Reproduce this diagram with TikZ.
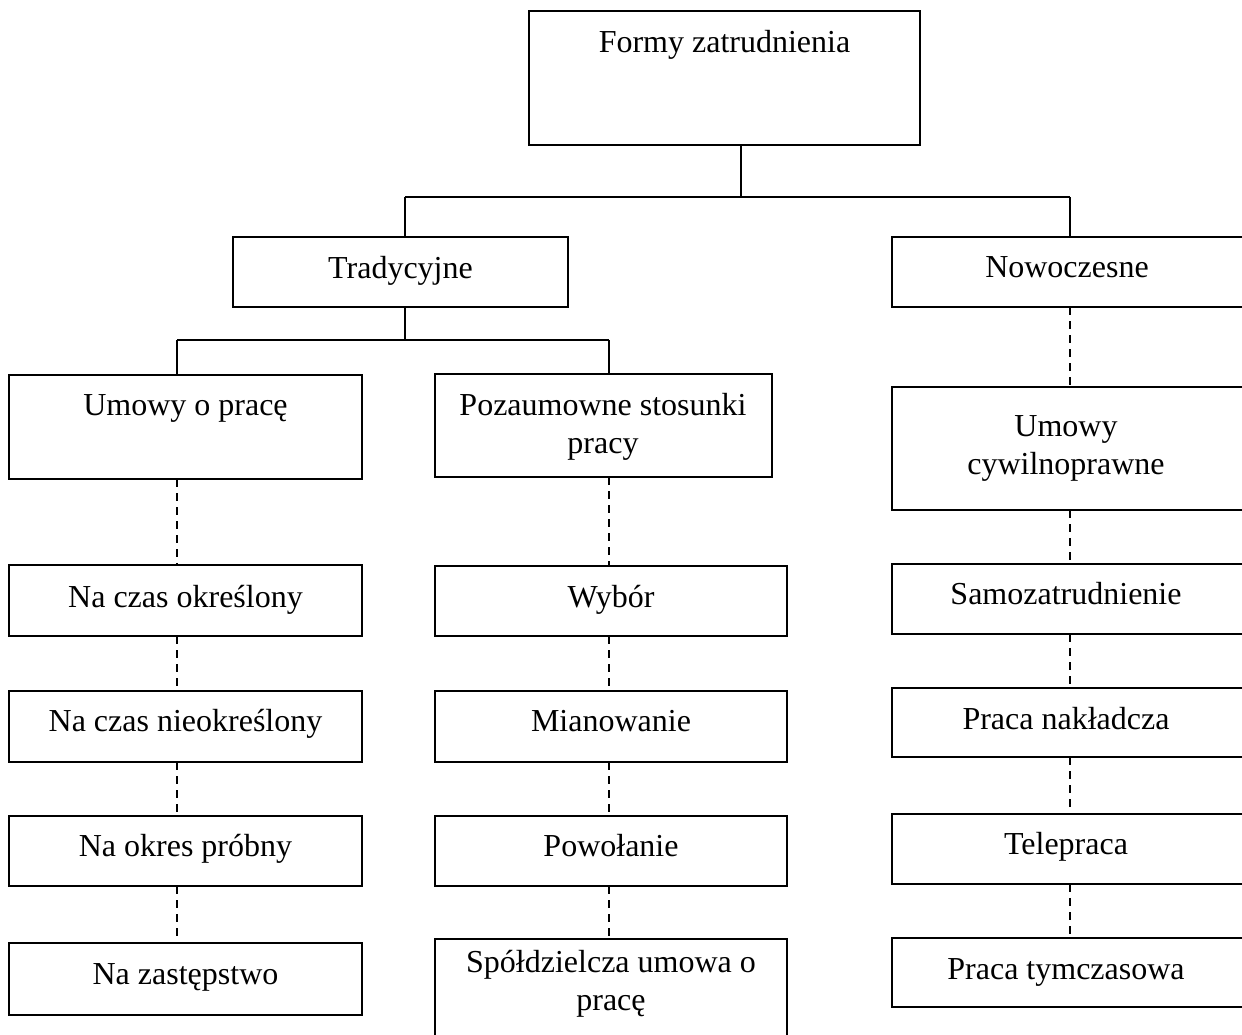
\documentclass[tikz,border=0pt]{standalone}
\usepackage{fontspec}
\setmainfont{Liberation Serif}
\begin{document}
\begin{tikzpicture}[x=1pt, y=-1pt,
  box/.style={draw, line width=1.6pt, rectangle, inner sep=0pt, outer sep=0pt},
  txt/.style={inner sep=0pt, outer sep=0pt, anchor=base, align=center,
    font=\fontsize{32}{37.5}\selectfont},
  link/.style={line width=1.6pt},
  dlink/.style={line width=1.5pt, dash pattern=on 8pt off 6pt}]
\useasboundingbox (0,0) rectangle (1242,1034);
\clip (0,0) rectangle (1242,1034);
\fill[white] (0,0) rectangle (1242,1034);

% root
\node[box, minimum width=391pt, minimum height=134pt] (top) at (724.5,78) {};
\node[txt] (top-t) at (724.5,52) {Formy zatrudnienia};

% second level
\node[box, minimum width=335pt, minimum height=70pt] (trad) at (400.5,272) {};
\node[txt] (trad-t) at (400.5,278) {Tradycyjne};
\node[box, minimum width=352pt, minimum height=70pt] (nowo) at (1068,272) {};
\node[txt] (nowo-t) at (1067,277) {Nowoczesne};

% third level (two-line labels are anchored at the baseline of their last line)
\node[box, minimum width=353pt, minimum height=104pt] (ump) at (185.5,427) {};
\node[txt] (ump-t) at (185.5,415) {Umowy o pracę};
\node[box, minimum width=337pt, minimum height=103pt] (poz) at (603.5,425.5) {};
\node[txt] (poz-t) at (603,453) {Pozaumowne stosunki\\pracy};
\node[box, minimum width=352pt, minimum height=123pt] (cyw) at (1068,448.5) {};
\node[txt] (cyw-t) at (1066,474) {Umowy\\cywilnoprawne};

% left column
\node[box, minimum width=353pt, minimum height=71pt] (l1) at (185.5,600.5) {};
\node[txt] at (185.5,607) {Na czas określony};
\node[box, minimum width=353pt, minimum height=71pt] (l2) at (185.5,726.5) {};
\node[txt] at (185.5,731) {Na czas nieokreślony};
\node[box, minimum width=353pt, minimum height=70pt] (l3) at (185.5,851) {};
\node[txt] at (185.5,856) {Na okres próbny};
\node[box, minimum width=353pt, minimum height=72pt] (l4) at (185.5,979) {};
\node[txt] at (185.5,984) {Na zastępstwo};

% middle column
\node[box, minimum width=352pt, minimum height=70pt] (m1) at (611,601) {};
\node[txt] at (611,607) {Wybór};
\node[box, minimum width=352pt, minimum height=71pt] (m2) at (611,726.5) {};
\node[txt] at (611,731) {Mianowanie};
\node[box, minimum width=352pt, minimum height=70pt] (m3) at (611,851) {};
\node[txt] at (611,856) {Powołanie};
\node[box, minimum width=352pt, minimum height=106pt] (m4) at (611,992) {};
\node[txt] at (611,1010) {Spółdzielcza umowa o\\pracę};

% right column
\node[box, minimum width=352pt, minimum height=70pt] (r1) at (1068,599) {};
\node[txt] at (1066,604) {Samozatrudnienie};
\node[box, minimum width=352pt, minimum height=69pt] (r2) at (1068,722.5) {};
\node[txt] at (1066,729) {Praca nakładcza};
\node[box, minimum width=352pt, minimum height=70pt] (r3) at (1068,849) {};
\node[txt] at (1066,854) {Telepraca};
\node[box, minimum width=352pt, minimum height=69pt] (r4) at (1068,972.5) {};
\node[txt] at (1066,979) {Praca tymczasowa};

% junction points of the solid tree
\coordinate (jtop) at (741,197);
\coordinate (jL) at (405,197);
\coordinate (jR) at (1070,197);
\coordinate (kT) at (405,340);
\coordinate (kL) at (177,340);
\coordinate (kR) at (609,340);

\draw[link] (top.south -| jtop) -- (jtop);
\draw[link] (jL) -- (jR);
\draw[link] (jL) -- (jL |- trad.north);
\draw[link] (jR) -- (jR |- nowo.north);
\draw[link] (trad.south -| kT) -- (kT);
\draw[link] (kL) -- (kR);
\draw[link] (kL) -- (kL |- ump.north);
\draw[link] (kR) -- (kR |- poz.north);

% dashed chains
\draw[dlink] (ump.south -| kL) -- (kL |- l1.north);
\draw[dlink] (l1.south -| kL) -- (kL |- l2.north);
\draw[dlink] (l2.south -| kL) -- (kL |- l3.north);
\draw[dlink] (l3.south -| kL) -- (kL |- l4.north);

\draw[dlink] (poz.south -| kR) -- (kR |- m1.north);
\draw[dlink] (m1.south -| kR) -- (kR |- m2.north);
\draw[dlink] (m2.south -| kR) -- (kR |- m3.north);
\draw[dlink] (m3.south -| kR) -- (kR |- m4.north);

\draw[dlink] (nowo.south -| jR) -- (jR |- cyw.north);
\draw[dlink] (cyw.south -| jR) -- (jR |- r1.north);
\draw[dlink] (r1.south -| jR) -- (jR |- r2.north);
\draw[dlink] (r2.south -| jR) -- (jR |- r3.north);
\draw[dlink] (r3.south -| jR) -- (jR |- r4.north);
\end{tikzpicture}
\end{document}
